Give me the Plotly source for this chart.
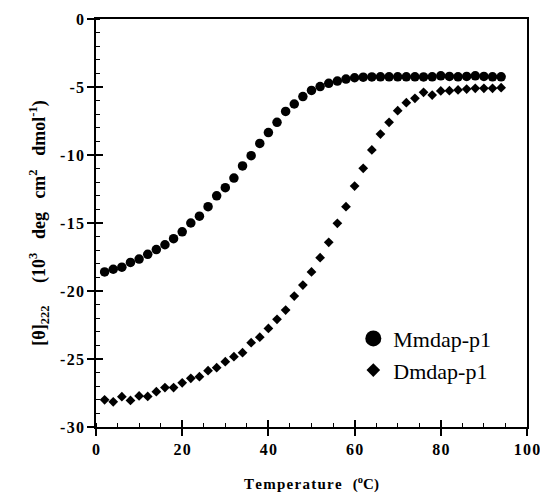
import plotly.graph_objects as go

temperature = list(range(2, 96, 2))

mmdap_p1 = [-18.6, -18.4, -18.25, -17.9, -17.65, -17.3, -16.95, -16.6, -16.15, -15.65,
            -15.0, -14.5, -13.8, -13.0, -12.4, -11.7, -10.8, -10.05, -9.15, -8.35,
            -7.6, -6.8, -6.25, -5.7, -5.25, -4.97, -4.73, -4.56, -4.42, -4.32,
            -4.28, -4.26, -4.25, -4.25, -4.25, -4.25, -4.25, -4.26, -4.25, -4.18,
            -4.22, -4.25, -4.22, -4.18, -4.22, -4.25, -4.25]

dmdap_p1 = [-28.0, -28.15, -27.77, -28.05, -27.72, -27.75, -27.4, -27.1, -27.1, -26.75,
            -26.42, -26.3, -25.86, -25.64, -25.2, -24.83, -24.54, -23.8, -23.4, -22.75,
            -22.08, -21.4, -20.37, -19.56, -18.6, -17.55, -16.42, -15.02, -13.8, -12.28,
            -10.98, -9.63, -8.46, -7.6, -6.74, -6.15, -5.83, -5.39, -5.59, -5.29,
            -5.27, -5.22, -5.15, -5.1, -5.1, -5.1, -5.05]

x_tick_vals = [0, 20, 40, 60, 80, 100]
x_tick_text = ["0", "2\u200a0", "4\u200a0", "6\u200a0", "8\u200a0", "1\u200a0\u200a0"]
y_tick_vals = [0, -5, -10, -15, -20, -25, -30]
y_tick_text = ["0", "-\u200a5", "-\u200a1\u200a0", "-\u200a1\u200a5", "-\u200a2\u200a0", "-\u200a2\u200a5", "-\u200a3\u200a0"]

SERIF = "Liberation Serif, Times New Roman, serif"

fig = go.Figure()
fig.add_trace(go.Scatter(x=temperature, y=mmdap_p1, mode="markers", showlegend=False,
                         marker=dict(symbol="circle", size=9.5, color="black")))
fig.add_trace(go.Scatter(x=temperature, y=dmdap_p1, mode="markers", showlegend=False,
                         marker=dict(symbol="diamond", size=7.5, color="black")))
# legend entries (larger symbols as in the original key)
fig.add_trace(go.Scatter(x=[None], y=[None], mode="markers", name="Mmdap-p1",
                         xaxis="x2", yaxis="y2",
                         marker=dict(symbol="circle", size=18, color="black")))
fig.add_trace(go.Scatter(x=[None], y=[None], mode="markers", name="Dmdap-p1",
                         xaxis="x2", yaxis="y2",
                         marker=dict(symbol="diamond", size=10.5, color="black")))

tick_font = dict(family=SERIF, size=16, color="black", weight="bold")

fig.update_layout(
    width=540, height=495,
    margin=dict(l=96, r=13, t=19, b=68),
    paper_bgcolor="white", plot_bgcolor="white",
    font=dict(family=SERIF, color="black"),
    xaxis=dict(range=[0, 100], showgrid=False, zeroline=False, automargin=False,
               showline=True, linecolor="black", linewidth=1.5, mirror=True,
               ticks="outside", ticklen=7, tickwidth=1.5, tickcolor="black",
               tickvals=x_tick_vals, ticktext=x_tick_text, tickfont=tick_font,
               ticklabeloverflow="allow",
               minor=dict(dtick=5, ticks="inside", ticklen=4, tickwidth=1.2, tickcolor="black"),
               title=dict(text="<b>T\u200ae\u200am\u200ap\u200ae\u200ar\u200aa\u200at\u200au\u200ar\u200ae   (<sup>o</sup>C)</b>",
                          font=dict(family=SERIF, size=15, color="black"), standoff=22)),
    yaxis=dict(range=[-30, 0], showgrid=False, zeroline=False, automargin=False,
               showline=True, linecolor="black", linewidth=1.5, mirror=True,
               ticks="outside", ticklen=7, tickwidth=1.5, tickcolor="black",
               tickvals=y_tick_vals, ticktext=y_tick_text, tickfont=tick_font,
               ticklabeloverflow="allow",
               minor=dict(dtick=1, ticks="inside", ticklen=4, tickwidth=1.2, tickcolor="black"),
               title=dict(text="<b>[θ]<sub>222</sub>     (10<sup>3</sup>   deg   cm<sup>2</sup>   dmol<sup>-1</sup>)</b>",
                          font=dict(family=SERIF, size=18, color="black"), standoff=10)),
    xaxis2=dict(range=[0, 100], overlaying="x", side="bottom", anchor="y", automargin=False,
                showgrid=False, zeroline=False, showline=False, showticklabels=False,
                ticks="inside", ticklen=7, tickwidth=1.5, tickcolor="black",
                tickvals=x_tick_vals),
    yaxis2=dict(range=[-30, 0], overlaying="y", side="left", anchor="x", automargin=False,
                showgrid=False, zeroline=False, showline=False, showticklabels=False,
                ticks="inside", ticklen=7, tickwidth=1.5, tickcolor="black",
                tickvals=y_tick_vals),
    legend=dict(x=0.597, y=0.268, xanchor="left", yanchor="top",
                bgcolor="rgba(0,0,0,0)", borderwidth=0,
                font=dict(family=SERIF, size=22, color="black"),
                itemsizing="trace", tracegroupgap=0),
)

# remove the default page margin so the 540x495 figure fills the window exactly
fig.write_html("out.html",
               config={"displayModeBar": False},
               post_script="document.body.style.margin='0';document.body.style.overflow='hidden';")
